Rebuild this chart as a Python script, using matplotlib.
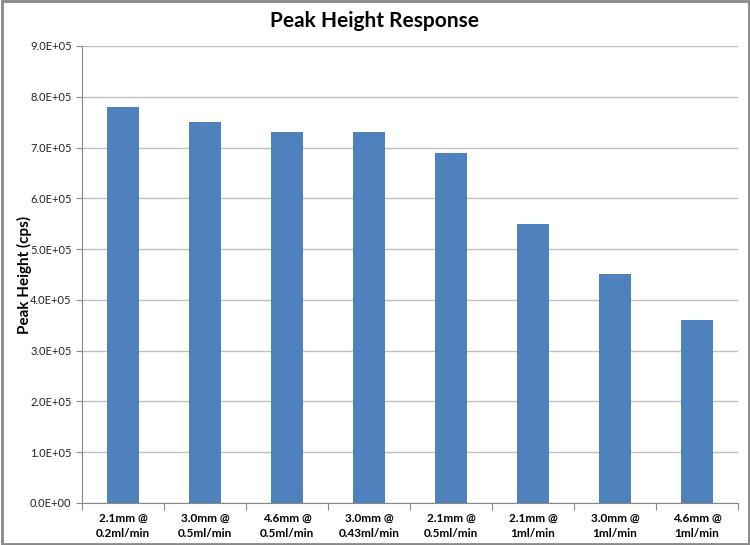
import matplotlib
matplotlib.use("Agg")
import matplotlib.pyplot as plt
from matplotlib.patches import Rectangle
from matplotlib.ticker import FuncFormatter
import numpy as np

plt.rcParams['font.family'] = ['Lato', 'DejaVu Sans']

# data
categories = ["2.1mm @\n0.2ml/min", "3.0mm @\n0.5ml/min", "4.6mm @\n0.5ml/min",
              "3.0mm @\n0.43ml/min", "2.1mm @\n0.5ml/min", "2.1mm @\n1ml/min",
              "3.0mm @\n1ml/min", "4.6mm @\n1ml/min"]
peak_height = [7.8e5, 7.5e5, 7.3e5, 7.3e5, 6.9e5, 5.5e5, 4.5e5, 3.6e5]
y_ticks = np.arange(0, 9.01e5, 1e5)

fig = plt.figure(figsize=[7.5, 5.45], dpi=100)
ax = fig.add_axes([0.1093, 0.0771, 0.8747, 0.8385])

x = np.arange(len(categories))
ax.bar(x, peak_height, width=0.4, color='#4F81BD', zorder=3)

ax.set_xlim(-0.5, len(categories) - 0.5)
ax.set_ylim(0, 9e5)
ax.set_yticks(y_ticks)
ax.yaxis.set_major_formatter(FuncFormatter(lambda v, p: "%.1fE+%02d" % (v / 1e5, 5) if v > 0 else "0.0E+00"))
ax.grid(axis='y', color='#BFBFBF', lw=1, zorder=0)

# category labels between boundary ticks
ax.set_xticks(np.arange(-0.5, len(categories), 1))
ax.set_xticklabels([])
ax.set_xticks(x, minor=True)
ax.set_xticklabels(categories, minor=True, fontsize=8.5, fontweight='bold', linespacing=1.5)
ax.tick_params(axis='x', which='minor', length=0, pad=7)
ax.tick_params(axis='x', which='major', length=5, color='#888888')
ax.tick_params(axis='y', length=4, color='#888888', labelsize=8, labelcolor='#222222')

for s in ['top', 'right']:
    ax.spines[s].set_visible(False)
ax.spines['left'].set_color('#888888')
ax.spines['bottom'].set_color('#888888')

ax.set_ylabel("Peak Height (cps)", fontsize=11, fontweight='bold')
ax.yaxis.set_label_coords(-0.076, 0.5)
fig.text(0.5, 0.961, "Peak Height Response", ha='center', va='center', fontsize=15, fontweight='bold')

# outer frame
fig.patches.append(Rectangle((0.002, 0.002), 0.996, 0.996, transform=fig.transFigure,
                             fill=False, edgecolor='#888888', lw=2))

plt.savefig('out.png', dpi=100)
